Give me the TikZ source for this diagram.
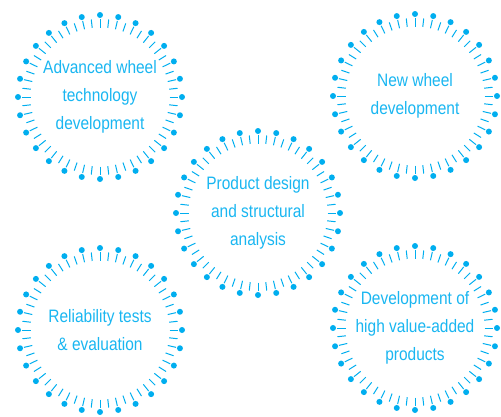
\documentclass[tikz,border=0pt]{standalone}
\usepackage{fontspec}
\setmainfont{Liberation Sans}[FakeStretch=0.86]
\usetikzlibrary{positioning}
\definecolor{wheelblue}{RGB}{0,174,239}

\begin{document}
\begin{tikzpicture}[x=1pt,y=-1pt]
\tikzstyle{every node}+=[inner sep=0pt]
\tikzstyle{wheel text}=[text=wheelblue!90, align=center, font=\fontsize{18}{28}\selectfont]
\tikzstyle{spoke}=[wheelblue, line width=1pt]
\useasboundingbox (0,0) rectangle (501,416);
\node [wheel text] (awt) at (100,97) {Advanced wheel\\technology\\development};
\node [wheel text] (nwd) at (415,96) {New wheel\\development};
\node [wheel text] (pds) at (258,213) {Product design\\and structural\\analysis};
\node [wheel text] (rte) at (100,330) {Reliability tests\\\& evaluation};
\node [wheel text] (hva) at (415,328) {Development of\\high value-added\\products};
% dotted rims
\foreach \w in {awt,nwd,pds,rte,hva} {
  \foreach \a in {0,12.8571,...,359}
    \fill [wheelblue] (\w.center) ++(\a:82pt) circle [radius=3pt];
  \foreach \a in {0,6.42857,...,359}
    \draw [spoke] (\w.center) ++(\a:69.5pt) -- ++(\a:8.5pt);
}
\end{tikzpicture}
\end{document}
